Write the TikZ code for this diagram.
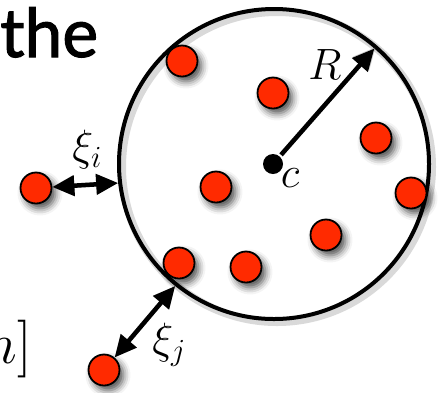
\documentclass[tikz,border=0pt]{standalone}
\usepackage{fix-cm}
\usepackage{fontspec}
\newfontfamily\wordfont{Lato}[FakeBold=1.6]
\usetikzlibrary{arrows.meta,shadows.blur}
\definecolor{dotred}{RGB}{255,42,0}

\begin{document}
\begin{tikzpicture}[x=1bp, y=-1bp, line width=4.5bp,
  dot/.style={circle, draw=black, line width=1.8bp, fill=dotred, minimum size=31bp, inner sep=0pt,
    blur shadow={shadow xshift=4bp, shadow yshift=-5bp, shadow blur radius=7bp, shadow opacity=70}},
  gap/.style={{Triangle[length=22bp,width=20bp]}-{Triangle[length=22bp,width=20bp]}},
  ray/.style={-{Triangle[length=22bp,width=20bp]}},
  ghost/.style={black!60, opacity=0.3, xshift=3bp, yshift=-3bp},
  lbl/.style={font=\fontsize{44}{44}\selectfont}]
  \clip (0,0) rectangle (440,392);

  % the ball
  \draw[black, opacity=0.15, line width=8bp] (277,167) circle (155);
  \node[circle, draw, line width=4bp, minimum size=310bp, inner sep=0pt, outer sep=0pt] (ball) at (274,164) {};
  \node[circle, fill, minimum size=20bp, inner sep=0pt] (c) at (273,164) {};

  % points
  \foreach \name/\pos in {p1/{(182,61)}, p2/{(273,93)}, p3/{(376,138)}, p4/{(411,193)},
                          p5/{(36,188)}, p6/{(216,187)}, p7/{(326,235)}, p8/{(246,267)},
                          p9/{(179,263)}, p10/{(104,370)}}
    \node[dot] (\name) at \pos {};

  % distances
  \draw[ray, ghost] (c) -- (ball.49);
  \draw[gap, ghost, shorten >=2bp] (p5) -- (ball.187);
  \draw[gap, ghost, shorten >=2bp] (p10) -- (ball.231);
  \draw[ray, shorten >=2bp] (c) -- (ball.49);
  \draw[gap, shorten >=2bp] (p5) -- (ball.187);
  \draw[gap, shorten >=2bp] (p10) -- (ball.231);

  \node[lbl] (rlabel) at (325,65) {$R$};
  \node[lbl] (clabel) at (290,178) {$c$};
  \node[lbl] (xii) at (87,150) {$\xi_i$};
  \node[lbl] (xij) at (169,345) {$\xi_j$};

  % cut-off text
  \node[anchor=base west, inner sep=0pt, font=\wordfont\fontsize{68}{68}\selectfont] (word) at (-2,57) {the};
  \node[anchor=base east, inner sep=0pt, font=\fontsize{58}{58}\selectfont] (tail) at (34,363) {$n]$};
\end{tikzpicture}
\end{document}
